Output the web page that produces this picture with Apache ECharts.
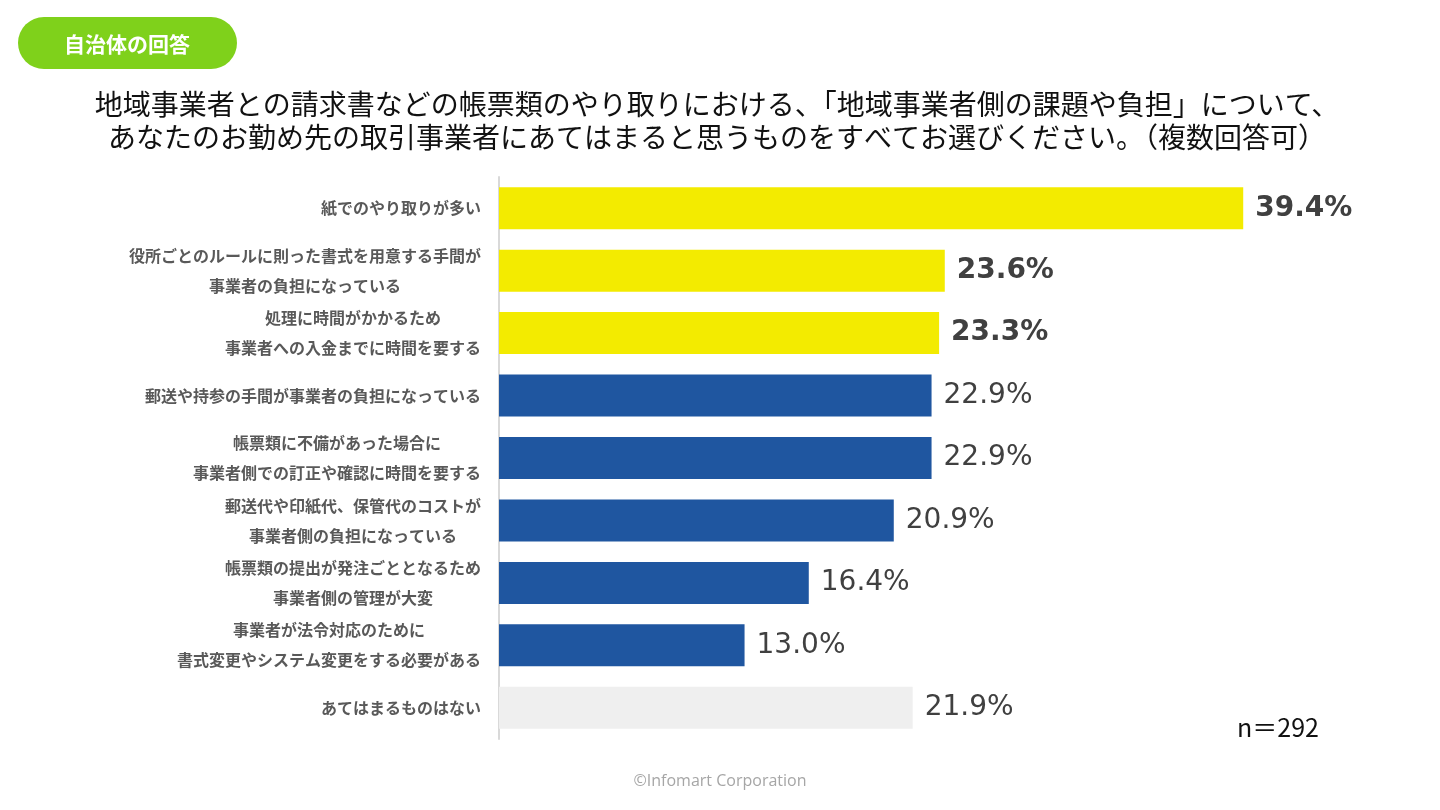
<!DOCTYPE html>
<html lang="ja">
<head>
<meta charset="UTF-8">
<title>地域事業者側の課題や負担</title>
<script src="https://cdn.jsdelivr.net/npm/echarts@6/dist/echarts.min.js"></script>
<style>
  html, body { margin: 0; padding: 0; background: #fff; }
  #main { width: 1440px; height: 810px; }
</style>
</head>
<body>
<div id="main"></div>
<script>
// 選択肢(上から順)
var categories = [
    '紙でのやり取りが多い',
    '役所ごとのルールに則った書式を用意する手間が\n事業者の負担になっている',
    '処理に時間がかかるため\n事業者への入金までに時間を要する',
    '郵送や持参の手間が事業者の負担になっている',
    '帳票類に不備があった場合に\n事業者側での訂正や確認に時間を要する',
    '郵送代や印紙代、保管代のコストが\n事業者側の負担になっている',
    '帳票類の提出が発注ごととなるため\n事業者側の管理が大変',
    '事業者が法令対応のために\n書式変更やシステム変更をする必要がある',
    'あてはまるものはない'
];
// 回答率(%)
var values = [39.4, 23.6, 23.3, 22.9, 22.9, 20.9, 16.4, 13.0, 21.9];
var titleLines = [
    '地域事業者との請求書などの帳票類のやり取りにおける、「地域事業者側の課題や負担」について、',
    'あなたのお勤め先の取引事業者にあてはまると思うものをすべてお選びください。（複数回答可）'
];
var badgeText = '自治体の回答';
var sampleText = 'n＝292';
var footerText = '©Infomart Corporation';

var TOP_N = 3;   // 上位3項目は黄色＋太字
var myChart = echarts.init(document.getElementById('main'));

var barData = values.map(function (v, i) {
    var top = i < TOP_N;
    var last = i === values.length - 1;
    return {
        value: v,
        itemStyle: { color: top ? '#f3eb00' : (last ? '#efefef' : '#1f56a0') },
        label: { fontWeight: top ? 'bold' : 'normal' }
    };
});

var option = {
    backgroundColor: '#fff',
    textStyle: { fontFamily: '"Noto Sans CJK JP", "Noto Sans", sans-serif' },
    title: {
        text: titleLines.join('\n'),
        left: 712,
        textAlign: 'center',
        top: 83,
        textStyle: {
            fontSize: 28,
            fontWeight: 'normal',
            color: '#111',
            lineHeight: 33
        }
    },
    graphic: [
        {
            type: 'rect',
            left: 18, top: 17,
            shape: { width: 219, height: 52, r: 26 },
            style: { fill: '#7fd11b' }
        },
        {
            type: 'text',
            x: 127, y: 44,
            style: { text: badgeText, fill: '#fff', fontSize: 21, fontWeight: 'bold',
                     align: 'center', verticalAlign: 'middle',
                     fontFamily: '"Noto Sans CJK JP", sans-serif' }
        },
        {
            type: 'text',
            left: 1237, top: 715,
            style: { text: sampleText, fill: '#111', fontSize: 25,
                     fontFamily: '"Noto Sans CJK JP", sans-serif' }
        },
        {
            type: 'text',
            left: 'center', top: 773,
            style: { text: footerText, fill: '#a6a6a6', fontSize: 16,
                     fontFamily: '"Open Sans", "Noto Sans", sans-serif' }
        }
    ],
    grid: {
        left: 499,
        top: 177,
        width: 850,
        height: 562
    },
    xAxis: {
        type: 'value',
        min: 0,
        max: 45,
        show: false
    },
    yAxis: {
        type: 'category',
        inverse: true,
        data: categories,
        axisLine: { show: true, lineStyle: { color: '#d9d9d9', width: 2 } },
        axisTick: { show: false },
        axisLabel: {
            margin: 18,
            align: 'right',
            formatter: function (v) {
                return v.split('\n').map(function (l) { return '{c|' + l + '}'; }).join('\n');
            },
            rich: {
                c: {
                    align: 'center',
                    fontSize: 16,
                    fontWeight: 'bold',
                    color: '#595959',
                    lineHeight: 30,
                    fontFamily: '"Noto Sans CJK JP", sans-serif'
                }
            }
        }
    },
    series: [{
        type: 'bar',
        data: barData,
        barWidth: 42,
        animation: false,
        label: {
            show: true,
            position: 'right',
            distance: 12,
            fontSize: 28,
            color: '#404040',
            fontFamily: '"DejaVu Sans", "Noto Sans", sans-serif',
            formatter: function (p) { return p.value.toFixed(1) + '%'; }
        }
    }]
};

myChart.setOption(option);
</script>
</body>
</html>
